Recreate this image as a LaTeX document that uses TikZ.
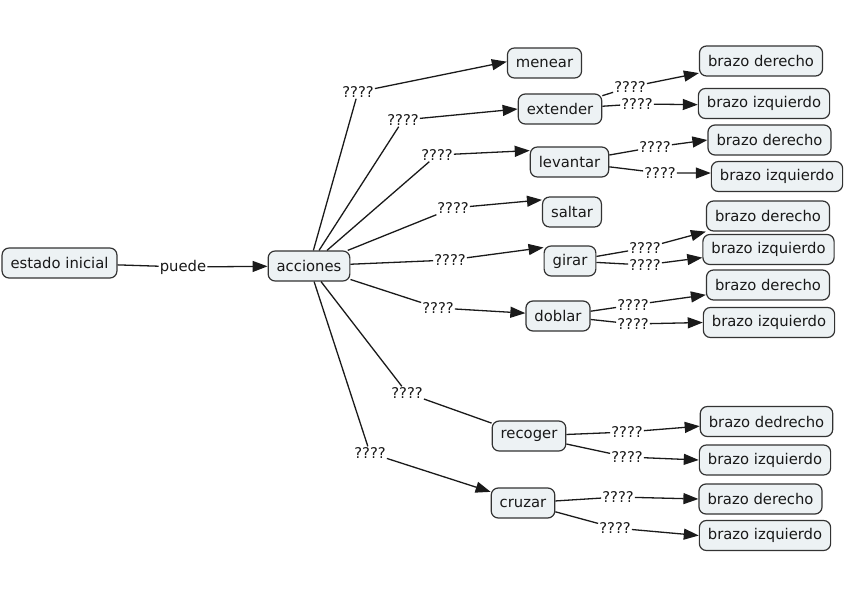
\documentclass[tikz,border=0pt]{standalone}
\usepackage{fontspec}
\setmainfont{DejaVu Sans}
\usetikzlibrary{arrows.meta}
\definecolor{boxfill}{HTML}{EDF2F4}
\definecolor{boxline}{HTML}{333333}
\definecolor{edgecol}{HTML}{1A1A1A}
\tikzset{
  concept/.style={draw=boxline, line width=1.2pt, fill=boxfill, rounded corners=7pt,
    minimum height=30pt, inner xsep=8.5pt, inner ysep=2pt,
    font=\fontsize{14.8}{16}\selectfont, text=black!90},
  lbl/.style={inner sep=1pt, font=\fontsize{14.8}{15}\selectfont, text=black!90},
  link/.style={draw=edgecol, line width=1.3pt},
  arr/.style={link, -{Triangle[length=15pt,width=11pt]}},
}
\begin{document}
\begin{tikzpicture}[x=1pt,y=-1pt]
\useasboundingbox (0,0) rectangle (848,599);
% concepts
\node[concept] (ei) at (59.5,263) {estado inicial};
\node[concept] (acc) at (309,266) {acciones};
\node[concept] (men) at (544.5,63) {menear};
\node[concept] (ext) at (560,109) {extender};
\node[concept] (lev) at (569.5,162) {levantar};
\node[concept] (sal) at (572,212) {saltar};
\node[concept] (gir) at (570,261) {girar};
\node[concept] (dob) at (558,316) {doblar};
\node[concept] (rec) at (529,436) {recoger};
\node[concept] (cru) at (523,503) {cruzar};
\node[concept] (bd1) at (761,61) {brazo derecho};
\node[concept] (bi1) at (764,103.5) {brazo izquierdo};
\node[concept] (bd2) at (769.5,140) {brazo derecho};
\node[concept] (bi2) at (777,176.5) {brazo izquierdo};
\node[concept] (bd3) at (768,216) {brazo derecho};
\node[concept] (bi3) at (768.5,249.5) {brazo izquierdo};
\node[concept] (bd4) at (768,285) {brazo derecho};
\node[concept] (bi4) at (769,322.5) {brazo izquierdo};
\node[concept] (bd5) at (766.5,421.5) {brazo dedrecho};
\node[concept] (bi5) at (765,460) {brazo izquierdo};
\node[concept] (bd6) at (760.5,499) {brazo derecho};
\node[concept] (bi6) at (765,535.5) {brazo izquierdo};
% labels
\node[lbl] (lp) at (183,267) {puede};
\node[lbl] (l1) at (358,92) {????};
\node[lbl] (l2) at (403,120) {????};
\node[lbl] (l3) at (437,155) {????};
\node[lbl] (l4) at (453,208) {????};
\node[lbl] (l5) at (450,260) {????};
\node[lbl] (l6) at (438,308) {????};
\node[lbl] (l7) at (407,393) {????};
\node[lbl] (l8) at (370,453) {????};
\node[lbl] (e1) at (630,87) {????};
\node[lbl] (e2) at (637,104) {????};
\node[lbl] (v1) at (655,147) {????};
\node[lbl] (v2) at (660,173) {????};
\node[lbl] (g1) at (645,248) {????};
\node[lbl] (g2) at (645,265) {????};
\node[lbl] (d1) at (633,305) {????};
\node[lbl] (d2) at (633,324) {????};
\node[lbl] (r1) at (627,432) {????};
\node[lbl] (r2) at (627,457) {????};
\node[lbl] (c1) at (618,497) {????};
\node[lbl] (c2) at (615,528) {????};
% links
\draw[link] (ei) -- (lp); \draw[arr] (lp) -- (acc);
\draw[link] (acc) -- (l1); \draw[arr] (l1) -- (men.178);
\draw[link] (acc) -- (l2); \draw[arr] (l2) -- (ext.west);
\draw[link] (acc) -- (l3); \draw[arr] (l3) -- (lev.164);
\draw[link] (acc) -- (l4); \draw[arr] (l4) -- (sal.158);
\draw[link] (acc) -- (l5); \draw[arr] (l5) -- (gir.153);
\draw[link] (acc) -- (l6); \draw[arr] (l6) -- (dob.175);
\draw[link] (acc) -- (l7); \draw[link] (l7) -- (rec.161);
\draw[link] (acc) -- (l8); \draw[arr] (l8) -- (cru.161);
\draw[link] (ext) -- (e1); \draw[arr] (e1) -- (bd1.191);
\draw[link] (ext) -- (e2); \draw[arr] (e2) -- (bi1.181);
\draw[link] (lev) -- (v1); \draw[arr] (v1) -- (bd2.west);
\draw[link] (lev) -- (v2); \draw[arr] (v2) -- (bi2.177);
\draw[link] (gir) -- (g1); \draw[arr] (g1) -- (bd3.south west);
\draw[link] (gir) -- (g2); \draw[arr] (g2) -- (bi3.187);
\draw[link] (dob) -- (d1); \draw[arr] (d1) -- (bd4.189);
\draw[link] (dob) -- (d2); \draw[arr] (d2) -- (bi4.west);
\draw[link] (rec) -- (r1); \draw[arr] (r1) -- (bd5.184);
\draw[link] (rec) -- (r2); \draw[arr] (r2) -- (bi5.west);
\draw[link] (cru) -- (c1); \draw[arr] (c1) -- (bd6.west);
\draw[link] (cru) -- (c2); \draw[arr] (c2) -- (bi6.west);
\end{tikzpicture}
\end{document}
